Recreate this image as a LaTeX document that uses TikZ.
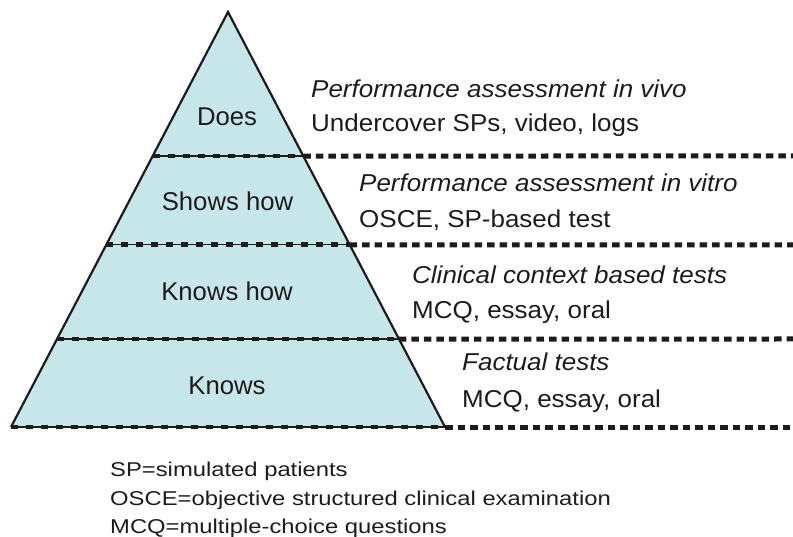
\documentclass[tikz,border=0pt]{standalone}
\usepackage{fontspec}
\setmainfont{Liberation Sans}
\newfontfamily\rfont[FakeStretch=1.065]{Liberation Sans}
\newfontfamily\nfont[FakeStretch=1.19]{Liberation Sans}
\usetikzlibrary{calc}
\definecolor{pyrfill}{RGB}{199,230,234}
\definecolor{ink}{RGB}{30,27,28}
\begin{document}
\begin{tikzpicture}[x=1pt,y=-1pt,
  lvl/.style={font=\fontsize{25.7}{30}\selectfont, anchor=base, inner sep=0pt, text=ink},
  desc/.style={font=\rfont\fontsize{24.4}{30}\selectfont, anchor=base west, inner sep=0pt, text=ink},
  note/.style={font=\nfont\fontsize{20}{24}\selectfont, anchor=base west, inner sep=0pt, text=ink},
  innerdash/.style={ink, line width=4.8pt, dash pattern=on 7pt off 8pt},
  outerdash/.style={ink, line width=5pt, dash pattern=on 7.5pt off 5pt},
  thinline/.style={ink, line width=1.2pt},
  edge/.style={ink, line width=2.2pt, line join=miter}]
\useasboundingbox (0,0) rectangle (793,537);

\coordinate (apex) at (228,12);
\coordinate (bl) at (11,427);
\coordinate (br) at (445,427);

\fill[pyrfill] (apex) -- (bl) -- (br) -- cycle;

% level lines
\foreach \t/\yy/\k in {0.347/156/1, 0.561/245/2, 0.788/339/3, 1/427/4}{
  \coordinate (L\k) at ($(apex)!\t!(bl)$);
  \coordinate (R\k) at ($(apex)!\t!(br)$);
  \coordinate (E\k) at (793,\yy);
  \draw[thinline] (L\k) -- (R\k);
  \draw[innerdash] (L\k) -- (R\k);
  \draw[outerdash] (R\k) -- (E\k);
}

\draw[edge] (bl) -- (apex) -- (br);

% pyramid labels
\node[lvl] (does) at (227,126) {Does};
\node[lvl] (shows) at (227.5,211) {Shows how};
\node[lvl] (knowshow) at (227,301) {Knows how};
\node[lvl] (knows) at (227,395) {Knows};

% right labels
\node[desc] (vivo) at (311,98) {\itshape Performance assessment in vivo};
\node[desc] (vivoT) at (311,132) {Undercover SPs, video, logs};
\node[desc] (vitro) at (359,192) {\itshape Performance assessment in vitro};
\node[desc] (vitroT) at (359,228) {OSCE, SP-based test};
\node[desc] (clin) at (412,284) {\itshape Clinical context based tests};
\node[desc] (clinT) at (412,319) {MCQ, essay, oral};
\node[desc] (fact) at (462,371) {\itshape Factual tests};
\node[desc] (factT) at (462,407) {MCQ, essay, oral};

% notes
\node[note] (n1) at (110,476) {SP=simulated patients};
\node[note] (n2) at (110,505.5) {OSCE=objective structured clinical examination};
\node[note] (n3) at (110,533.5) {MCQ=multiple-choice questions};
\end{tikzpicture}
\end{document}
